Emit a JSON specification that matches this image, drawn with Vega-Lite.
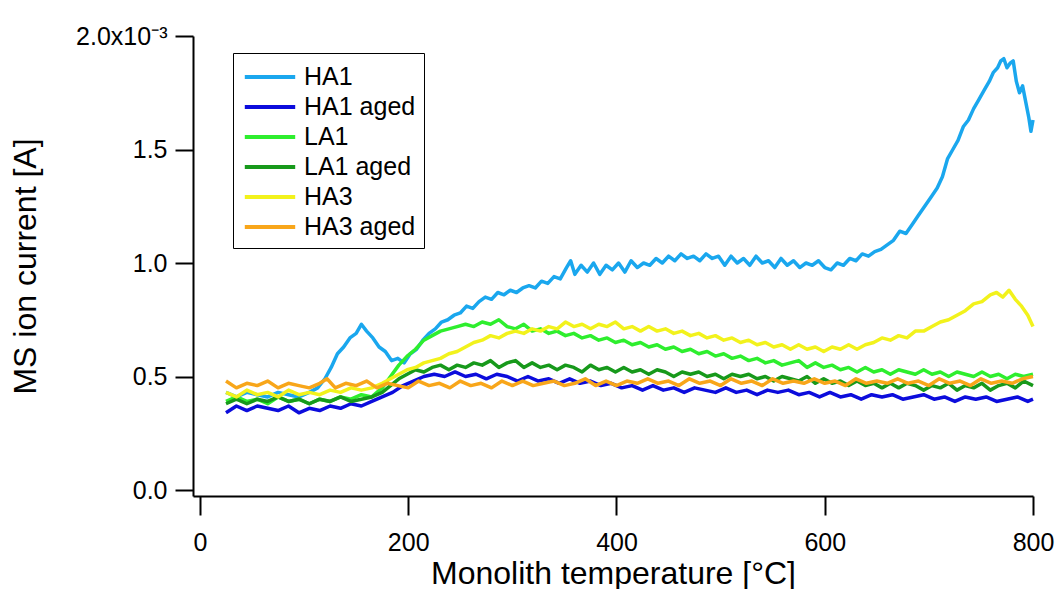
{
"$schema":"https://vega.github.io/schema/vega-lite/v6.json",
"width":840,"height":460,
"autosize":{"type":"none"},
"padding":{"left":193,"top":36,"right":23,"bottom":93},
"background":"white",
"config":{"view":{"stroke":null},"font":"Liberation Sans"},
"datasets":{"d":[
{"s":"HA1","t":25,"v":0.43},{"s":"HA1","t":35,"v":0.41},{"s":"HA1","t":45,"v":0.43},{"s":"HA1","t":55,"v":0.42},{"s":"HA1","t":65,"v":0.41},{"s":"HA1","t":75,"v":0.43},{"s":"HA1","t":85,"v":0.42},{"s":"HA1","t":95,"v":0.41},{"s":"HA1","t":105,"v":0.43},{"s":"HA1","t":113,"v":0.45},{"s":"HA1","t":120,"v":0.49},{"s":"HA1","t":126,"v":0.54},{"s":"HA1","t":132,"v":0.60},{"s":"HA1","t":138,"v":0.63},{"s":"HA1","t":144,"v":0.67},{"s":"HA1","t":150,"v":0.69},{"s":"HA1","t":155,"v":0.73},{"s":"HA1","t":160,"v":0.70},{"s":"HA1","t":166,"v":0.67},{"s":"HA1","t":172,"v":0.63},{"s":"HA1","t":178,"v":0.61},{"s":"HA1","t":184,"v":0.57},{"s":"HA1","t":190,"v":0.58},{"s":"HA1","t":196,"v":0.56},{"s":"HA1","t":202,"v":0.60},{"s":"HA1","t":208,"v":0.62},{"s":"HA1","t":214,"v":0.66},{"s":"HA1","t":220,"v":0.69},{"s":"HA1","t":226,"v":0.71},{"s":"HA1","t":232,"v":0.74},{"s":"HA1","t":238,"v":0.75},{"s":"HA1","t":244,"v":0.77},{"s":"HA1","t":250,"v":0.78},{"s":"HA1","t":256,"v":0.81},{"s":"HA1","t":262,"v":0.80},{"s":"HA1","t":268,"v":0.83},{"s":"HA1","t":274,"v":0.85},{"s":"HA1","t":280,"v":0.84},{"s":"HA1","t":286,"v":0.87},{"s":"HA1","t":292,"v":0.86},{"s":"HA1","t":298,"v":0.88},{"s":"HA1","t":304,"v":0.87},{"s":"HA1","t":310,"v":0.89},{"s":"HA1","t":316,"v":0.90},{"s":"HA1","t":322,"v":0.89},{"s":"HA1","t":328,"v":0.92},{"s":"HA1","t":334,"v":0.91},{"s":"HA1","t":340,"v":0.94},{"s":"HA1","t":346,"v":0.93},{"s":"HA1","t":352,"v":0.98},{"s":"HA1","t":356,"v":1.01},{"s":"HA1","t":360,"v":0.95},{"s":"HA1","t":366,"v":0.99},{"s":"HA1","t":372,"v":0.96},{"s":"HA1","t":378,"v":1.00},{"s":"HA1","t":384,"v":0.95},{"s":"HA1","t":390,"v":0.99},{"s":"HA1","t":396,"v":0.97},{"s":"HA1","t":402,"v":1.00},{"s":"HA1","t":408,"v":0.96},{"s":"HA1","t":414,"v":1.01},{"s":"HA1","t":420,"v":0.98},{"s":"HA1","t":426,"v":1.00},{"s":"HA1","t":432,"v":0.99},{"s":"HA1","t":438,"v":1.02},{"s":"HA1","t":444,"v":1.00},{"s":"HA1","t":450,"v":1.03},{"s":"HA1","t":456,"v":1.01},{"s":"HA1","t":462,"v":1.04},{"s":"HA1","t":468,"v":1.02},{"s":"HA1","t":474,"v":1.03},{"s":"HA1","t":480,"v":1.01},{"s":"HA1","t":486,"v":1.04},{"s":"HA1","t":492,"v":1.02},{"s":"HA1","t":498,"v":1.03},{"s":"HA1","t":504,"v":0.99},{"s":"HA1","t":510,"v":1.03},{"s":"HA1","t":516,"v":1.00},{"s":"HA1","t":522,"v":1.02},{"s":"HA1","t":528,"v":0.99},{"s":"HA1","t":534,"v":1.03},{"s":"HA1","t":540,"v":1.00},{"s":"HA1","t":546,"v":1.01},{"s":"HA1","t":552,"v":0.98},{"s":"HA1","t":558,"v":1.02},{"s":"HA1","t":564,"v":0.99},{"s":"HA1","t":570,"v":1.01},{"s":"HA1","t":576,"v":0.98},{"s":"HA1","t":582,"v":1.00},{"s":"HA1","t":588,"v":0.99},{"s":"HA1","t":594,"v":1.01},{"s":"HA1","t":600,"v":0.98},{"s":"HA1","t":606,"v":0.97},{"s":"HA1","t":612,"v":1.00},{"s":"HA1","t":618,"v":0.99},{"s":"HA1","t":624,"v":1.02},{"s":"HA1","t":630,"v":1.01},{"s":"HA1","t":636,"v":1.04},{"s":"HA1","t":642,"v":1.03},{"s":"HA1","t":648,"v":1.05},{"s":"HA1","t":654,"v":1.06},{"s":"HA1","t":660,"v":1.08},{"s":"HA1","t":666,"v":1.10},{"s":"HA1","t":672,"v":1.14},{"s":"HA1","t":678,"v":1.13},{"s":"HA1","t":684,"v":1.17},{"s":"HA1","t":690,"v":1.21},{"s":"HA1","t":696,"v":1.25},{"s":"HA1","t":702,"v":1.29},{"s":"HA1","t":708,"v":1.33},{"s":"HA1","t":713,"v":1.38},{"s":"HA1","t":718,"v":1.46},{"s":"HA1","t":723,"v":1.50},{"s":"HA1","t":728,"v":1.54},{"s":"HA1","t":733,"v":1.60},{"s":"HA1","t":738,"v":1.63},{"s":"HA1","t":743,"v":1.68},{"s":"HA1","t":748,"v":1.72},{"s":"HA1","t":753,"v":1.76},{"s":"HA1","t":758,"v":1.80},{"s":"HA1","t":762,"v":1.84},{"s":"HA1","t":766,"v":1.86},{"s":"HA1","t":769,"v":1.89},{"s":"HA1","t":772,"v":1.90},{"s":"HA1","t":775,"v":1.86},{"s":"HA1","t":778,"v":1.88},{"s":"HA1","t":781,"v":1.89},{"s":"HA1","t":784,"v":1.80},{"s":"HA1","t":787,"v":1.75},{"s":"HA1","t":790,"v":1.78},{"s":"HA1","t":793,"v":1.71},{"s":"HA1","t":796,"v":1.64},{"s":"HA1","t":798,"v":1.58},{"s":"HA1","t":800,"v":1.63},
{"s":"HA1 aged","t":25,"v":0.34},{"s":"HA1 aged","t":35,"v":0.37},{"s":"HA1 aged","t":45,"v":0.35},{"s":"HA1 aged","t":55,"v":0.37},{"s":"HA1 aged","t":65,"v":0.36},{"s":"HA1 aged","t":75,"v":0.35},{"s":"HA1 aged","t":85,"v":0.37},{"s":"HA1 aged","t":95,"v":0.34},{"s":"HA1 aged","t":105,"v":0.36},{"s":"HA1 aged","t":115,"v":0.35},{"s":"HA1 aged","t":125,"v":0.37},{"s":"HA1 aged","t":135,"v":0.36},{"s":"HA1 aged","t":145,"v":0.38},{"s":"HA1 aged","t":155,"v":0.37},{"s":"HA1 aged","t":165,"v":0.39},{"s":"HA1 aged","t":175,"v":0.41},{"s":"HA1 aged","t":185,"v":0.43},{"s":"HA1 aged","t":195,"v":0.46},{"s":"HA1 aged","t":205,"v":0.48},{"s":"HA1 aged","t":215,"v":0.50},{"s":"HA1 aged","t":225,"v":0.51},{"s":"HA1 aged","t":235,"v":0.50},{"s":"HA1 aged","t":245,"v":0.52},{"s":"HA1 aged","t":255,"v":0.50},{"s":"HA1 aged","t":265,"v":0.51},{"s":"HA1 aged","t":275,"v":0.49},{"s":"HA1 aged","t":285,"v":0.51},{"s":"HA1 aged","t":295,"v":0.50},{"s":"HA1 aged","t":305,"v":0.48},{"s":"HA1 aged","t":315,"v":0.50},{"s":"HA1 aged","t":325,"v":0.48},{"s":"HA1 aged","t":335,"v":0.49},{"s":"HA1 aged","t":345,"v":0.47},{"s":"HA1 aged","t":355,"v":0.49},{"s":"HA1 aged","t":365,"v":0.47},{"s":"HA1 aged","t":375,"v":0.48},{"s":"HA1 aged","t":385,"v":0.46},{"s":"HA1 aged","t":395,"v":0.47},{"s":"HA1 aged","t":405,"v":0.45},{"s":"HA1 aged","t":415,"v":0.46},{"s":"HA1 aged","t":425,"v":0.44},{"s":"HA1 aged","t":435,"v":0.46},{"s":"HA1 aged","t":445,"v":0.44},{"s":"HA1 aged","t":455,"v":0.45},{"s":"HA1 aged","t":465,"v":0.43},{"s":"HA1 aged","t":475,"v":0.45},{"s":"HA1 aged","t":485,"v":0.44},{"s":"HA1 aged","t":495,"v":0.43},{"s":"HA1 aged","t":505,"v":0.45},{"s":"HA1 aged","t":515,"v":0.43},{"s":"HA1 aged","t":525,"v":0.44},{"s":"HA1 aged","t":535,"v":0.42},{"s":"HA1 aged","t":545,"v":0.44},{"s":"HA1 aged","t":555,"v":0.43},{"s":"HA1 aged","t":565,"v":0.44},{"s":"HA1 aged","t":575,"v":0.42},{"s":"HA1 aged","t":585,"v":0.43},{"s":"HA1 aged","t":595,"v":0.41},{"s":"HA1 aged","t":605,"v":0.43},{"s":"HA1 aged","t":615,"v":0.41},{"s":"HA1 aged","t":625,"v":0.42},{"s":"HA1 aged","t":635,"v":0.40},{"s":"HA1 aged","t":645,"v":0.42},{"s":"HA1 aged","t":655,"v":0.41},{"s":"HA1 aged","t":665,"v":0.42},{"s":"HA1 aged","t":675,"v":0.40},{"s":"HA1 aged","t":685,"v":0.41},{"s":"HA1 aged","t":695,"v":0.42},{"s":"HA1 aged","t":705,"v":0.40},{"s":"HA1 aged","t":715,"v":0.41},{"s":"HA1 aged","t":725,"v":0.39},{"s":"HA1 aged","t":735,"v":0.41},{"s":"HA1 aged","t":745,"v":0.40},{"s":"HA1 aged","t":755,"v":0.41},{"s":"HA1 aged","t":765,"v":0.39},{"s":"HA1 aged","t":775,"v":0.40},{"s":"HA1 aged","t":785,"v":0.41},{"s":"HA1 aged","t":795,"v":0.39},{"s":"HA1 aged","t":800,"v":0.40},
{"s":"LA1","t":25,"v":0.39},{"s":"LA1","t":35,"v":0.41},{"s":"LA1","t":45,"v":0.39},{"s":"LA1","t":55,"v":0.40},{"s":"LA1","t":65,"v":0.38},{"s":"LA1","t":75,"v":0.41},{"s":"LA1","t":85,"v":0.39},{"s":"LA1","t":95,"v":0.40},{"s":"LA1","t":105,"v":0.38},{"s":"LA1","t":115,"v":0.40},{"s":"LA1","t":125,"v":0.39},{"s":"LA1","t":135,"v":0.41},{"s":"LA1","t":145,"v":0.40},{"s":"LA1","t":155,"v":0.42},{"s":"LA1","t":165,"v":0.41},{"s":"LA1","t":175,"v":0.45},{"s":"LA1","t":183,"v":0.50},{"s":"LA1","t":191,"v":0.55},{"s":"LA1","t":199,"v":0.59},{"s":"LA1","t":207,"v":0.62},{"s":"LA1","t":215,"v":0.66},{"s":"LA1","t":223,"v":0.68},{"s":"LA1","t":231,"v":0.70},{"s":"LA1","t":239,"v":0.71},{"s":"LA1","t":247,"v":0.72},{"s":"LA1","t":255,"v":0.73},{"s":"LA1","t":263,"v":0.72},{"s":"LA1","t":271,"v":0.74},{"s":"LA1","t":279,"v":0.73},{"s":"LA1","t":287,"v":0.75},{"s":"LA1","t":295,"v":0.72},{"s":"LA1","t":303,"v":0.71},{"s":"LA1","t":311,"v":0.73},{"s":"LA1","t":319,"v":0.70},{"s":"LA1","t":327,"v":0.71},{"s":"LA1","t":335,"v":0.69},{"s":"LA1","t":343,"v":0.70},{"s":"LA1","t":351,"v":0.68},{"s":"LA1","t":359,"v":0.69},{"s":"LA1","t":367,"v":0.67},{"s":"LA1","t":375,"v":0.68},{"s":"LA1","t":383,"v":0.66},{"s":"LA1","t":391,"v":0.67},{"s":"LA1","t":399,"v":0.65},{"s":"LA1","t":407,"v":0.66},{"s":"LA1","t":415,"v":0.64},{"s":"LA1","t":423,"v":0.65},{"s":"LA1","t":431,"v":0.63},{"s":"LA1","t":439,"v":0.64},{"s":"LA1","t":447,"v":0.62},{"s":"LA1","t":455,"v":0.63},{"s":"LA1","t":463,"v":0.61},{"s":"LA1","t":471,"v":0.62},{"s":"LA1","t":479,"v":0.60},{"s":"LA1","t":487,"v":0.61},{"s":"LA1","t":495,"v":0.59},{"s":"LA1","t":503,"v":0.60},{"s":"LA1","t":511,"v":0.58},{"s":"LA1","t":519,"v":0.59},{"s":"LA1","t":527,"v":0.57},{"s":"LA1","t":535,"v":0.58},{"s":"LA1","t":543,"v":0.56},{"s":"LA1","t":551,"v":0.57},{"s":"LA1","t":559,"v":0.55},{"s":"LA1","t":567,"v":0.56},{"s":"LA1","t":575,"v":0.57},{"s":"LA1","t":583,"v":0.54},{"s":"LA1","t":591,"v":0.56},{"s":"LA1","t":599,"v":0.54},{"s":"LA1","t":607,"v":0.55},{"s":"LA1","t":615,"v":0.53},{"s":"LA1","t":623,"v":0.54},{"s":"LA1","t":631,"v":0.52},{"s":"LA1","t":639,"v":0.54},{"s":"LA1","t":647,"v":0.52},{"s":"LA1","t":655,"v":0.53},{"s":"LA1","t":663,"v":0.51},{"s":"LA1","t":671,"v":0.53},{"s":"LA1","t":679,"v":0.52},{"s":"LA1","t":687,"v":0.51},{"s":"LA1","t":695,"v":0.53},{"s":"LA1","t":703,"v":0.51},{"s":"LA1","t":711,"v":0.52},{"s":"LA1","t":719,"v":0.50},{"s":"LA1","t":727,"v":0.52},{"s":"LA1","t":735,"v":0.51},{"s":"LA1","t":743,"v":0.50},{"s":"LA1","t":751,"v":0.52},{"s":"LA1","t":759,"v":0.50},{"s":"LA1","t":767,"v":0.51},{"s":"LA1","t":775,"v":0.49},{"s":"LA1","t":783,"v":0.51},{"s":"LA1","t":791,"v":0.50},{"s":"LA1","t":800,"v":0.51},
{"s":"LA1 aged","t":25,"v":0.38},{"s":"LA1 aged","t":35,"v":0.40},{"s":"LA1 aged","t":45,"v":0.38},{"s":"LA1 aged","t":55,"v":0.40},{"s":"LA1 aged","t":65,"v":0.39},{"s":"LA1 aged","t":75,"v":0.41},{"s":"LA1 aged","t":85,"v":0.39},{"s":"LA1 aged","t":95,"v":0.40},{"s":"LA1 aged","t":105,"v":0.38},{"s":"LA1 aged","t":115,"v":0.40},{"s":"LA1 aged","t":125,"v":0.39},{"s":"LA1 aged","t":135,"v":0.41},{"s":"LA1 aged","t":145,"v":0.39},{"s":"LA1 aged","t":155,"v":0.40},{"s":"LA1 aged","t":165,"v":0.41},{"s":"LA1 aged","t":175,"v":0.43},{"s":"LA1 aged","t":183,"v":0.46},{"s":"LA1 aged","t":191,"v":0.49},{"s":"LA1 aged","t":199,"v":0.51},{"s":"LA1 aged","t":207,"v":0.53},{"s":"LA1 aged","t":215,"v":0.52},{"s":"LA1 aged","t":223,"v":0.54},{"s":"LA1 aged","t":231,"v":0.55},{"s":"LA1 aged","t":239,"v":0.53},{"s":"LA1 aged","t":247,"v":0.55},{"s":"LA1 aged","t":255,"v":0.54},{"s":"LA1 aged","t":263,"v":0.56},{"s":"LA1 aged","t":271,"v":0.55},{"s":"LA1 aged","t":279,"v":0.57},{"s":"LA1 aged","t":287,"v":0.54},{"s":"LA1 aged","t":295,"v":0.56},{"s":"LA1 aged","t":303,"v":0.57},{"s":"LA1 aged","t":311,"v":0.54},{"s":"LA1 aged","t":319,"v":0.56},{"s":"LA1 aged","t":327,"v":0.54},{"s":"LA1 aged","t":335,"v":0.55},{"s":"LA1 aged","t":343,"v":0.53},{"s":"LA1 aged","t":351,"v":0.55},{"s":"LA1 aged","t":359,"v":0.54},{"s":"LA1 aged","t":367,"v":0.52},{"s":"LA1 aged","t":375,"v":0.55},{"s":"LA1 aged","t":383,"v":0.53},{"s":"LA1 aged","t":391,"v":0.54},{"s":"LA1 aged","t":399,"v":0.52},{"s":"LA1 aged","t":407,"v":0.54},{"s":"LA1 aged","t":415,"v":0.52},{"s":"LA1 aged","t":423,"v":0.53},{"s":"LA1 aged","t":431,"v":0.51},{"s":"LA1 aged","t":439,"v":0.53},{"s":"LA1 aged","t":447,"v":0.52},{"s":"LA1 aged","t":455,"v":0.50},{"s":"LA1 aged","t":463,"v":0.52},{"s":"LA1 aged","t":471,"v":0.51},{"s":"LA1 aged","t":479,"v":0.52},{"s":"LA1 aged","t":487,"v":0.50},{"s":"LA1 aged","t":495,"v":0.51},{"s":"LA1 aged","t":503,"v":0.49},{"s":"LA1 aged","t":511,"v":0.51},{"s":"LA1 aged","t":519,"v":0.50},{"s":"LA1 aged","t":527,"v":0.51},{"s":"LA1 aged","t":535,"v":0.49},{"s":"LA1 aged","t":543,"v":0.50},{"s":"LA1 aged","t":551,"v":0.48},{"s":"LA1 aged","t":559,"v":0.50},{"s":"LA1 aged","t":567,"v":0.49},{"s":"LA1 aged","t":575,"v":0.48},{"s":"LA1 aged","t":583,"v":0.50},{"s":"LA1 aged","t":591,"v":0.47},{"s":"LA1 aged","t":599,"v":0.49},{"s":"LA1 aged","t":607,"v":0.47},{"s":"LA1 aged","t":615,"v":0.48},{"s":"LA1 aged","t":623,"v":0.46},{"s":"LA1 aged","t":631,"v":0.48},{"s":"LA1 aged","t":639,"v":0.46},{"s":"LA1 aged","t":647,"v":0.47},{"s":"LA1 aged","t":655,"v":0.45},{"s":"LA1 aged","t":663,"v":0.47},{"s":"LA1 aged","t":671,"v":0.45},{"s":"LA1 aged","t":679,"v":0.47},{"s":"LA1 aged","t":687,"v":0.46},{"s":"LA1 aged","t":695,"v":0.44},{"s":"LA1 aged","t":703,"v":0.46},{"s":"LA1 aged","t":711,"v":0.45},{"s":"LA1 aged","t":719,"v":0.47},{"s":"LA1 aged","t":727,"v":0.44},{"s":"LA1 aged","t":735,"v":0.46},{"s":"LA1 aged","t":743,"v":0.45},{"s":"LA1 aged","t":751,"v":0.47},{"s":"LA1 aged","t":759,"v":0.44},{"s":"LA1 aged","t":767,"v":0.46},{"s":"LA1 aged","t":775,"v":0.47},{"s":"LA1 aged","t":783,"v":0.45},{"s":"LA1 aged","t":791,"v":0.48},{"s":"LA1 aged","t":800,"v":0.46},
{"s":"HA3","t":25,"v":0.43},{"s":"HA3","t":35,"v":0.41},{"s":"HA3","t":45,"v":0.44},{"s":"HA3","t":55,"v":0.42},{"s":"HA3","t":65,"v":0.43},{"s":"HA3","t":75,"v":0.41},{"s":"HA3","t":85,"v":0.44},{"s":"HA3","t":95,"v":0.42},{"s":"HA3","t":105,"v":0.43},{"s":"HA3","t":115,"v":0.42},{"s":"HA3","t":125,"v":0.44},{"s":"HA3","t":135,"v":0.43},{"s":"HA3","t":145,"v":0.45},{"s":"HA3","t":155,"v":0.44},{"s":"HA3","t":165,"v":0.45},{"s":"HA3","t":175,"v":0.47},{"s":"HA3","t":183,"v":0.49},{"s":"HA3","t":191,"v":0.51},{"s":"HA3","t":199,"v":0.53},{"s":"HA3","t":207,"v":0.54},{"s":"HA3","t":215,"v":0.56},{"s":"HA3","t":223,"v":0.57},{"s":"HA3","t":231,"v":0.58},{"s":"HA3","t":239,"v":0.60},{"s":"HA3","t":247,"v":0.61},{"s":"HA3","t":255,"v":0.63},{"s":"HA3","t":263,"v":0.65},{"s":"HA3","t":271,"v":0.66},{"s":"HA3","t":279,"v":0.68},{"s":"HA3","t":287,"v":0.67},{"s":"HA3","t":295,"v":0.69},{"s":"HA3","t":303,"v":0.70},{"s":"HA3","t":311,"v":0.69},{"s":"HA3","t":319,"v":0.71},{"s":"HA3","t":327,"v":0.70},{"s":"HA3","t":335,"v":0.72},{"s":"HA3","t":343,"v":0.71},{"s":"HA3","t":351,"v":0.74},{"s":"HA3","t":359,"v":0.72},{"s":"HA3","t":367,"v":0.73},{"s":"HA3","t":375,"v":0.71},{"s":"HA3","t":383,"v":0.73},{"s":"HA3","t":391,"v":0.72},{"s":"HA3","t":399,"v":0.74},{"s":"HA3","t":407,"v":0.71},{"s":"HA3","t":415,"v":0.72},{"s":"HA3","t":423,"v":0.70},{"s":"HA3","t":431,"v":0.72},{"s":"HA3","t":439,"v":0.70},{"s":"HA3","t":447,"v":0.71},{"s":"HA3","t":455,"v":0.69},{"s":"HA3","t":463,"v":0.70},{"s":"HA3","t":471,"v":0.68},{"s":"HA3","t":479,"v":0.69},{"s":"HA3","t":487,"v":0.67},{"s":"HA3","t":495,"v":0.68},{"s":"HA3","t":503,"v":0.66},{"s":"HA3","t":511,"v":0.67},{"s":"HA3","t":519,"v":0.65},{"s":"HA3","t":527,"v":0.66},{"s":"HA3","t":535,"v":0.64},{"s":"HA3","t":543,"v":0.65},{"s":"HA3","t":551,"v":0.63},{"s":"HA3","t":559,"v":0.64},{"s":"HA3","t":567,"v":0.62},{"s":"HA3","t":575,"v":0.64},{"s":"HA3","t":583,"v":0.62},{"s":"HA3","t":591,"v":0.63},{"s":"HA3","t":599,"v":0.61},{"s":"HA3","t":607,"v":0.63},{"s":"HA3","t":615,"v":0.62},{"s":"HA3","t":623,"v":0.64},{"s":"HA3","t":631,"v":0.62},{"s":"HA3","t":639,"v":0.64},{"s":"HA3","t":647,"v":0.65},{"s":"HA3","t":655,"v":0.67},{"s":"HA3","t":663,"v":0.66},{"s":"HA3","t":671,"v":0.68},{"s":"HA3","t":679,"v":0.67},{"s":"HA3","t":687,"v":0.70},{"s":"HA3","t":695,"v":0.70},{"s":"HA3","t":703,"v":0.72},{"s":"HA3","t":711,"v":0.74},{"s":"HA3","t":719,"v":0.75},{"s":"HA3","t":727,"v":0.77},{"s":"HA3","t":735,"v":0.79},{"s":"HA3","t":743,"v":0.82},{"s":"HA3","t":751,"v":0.83},{"s":"HA3","t":759,"v":0.86},{"s":"HA3","t":765,"v":0.87},{"s":"HA3","t":771,"v":0.85},{"s":"HA3","t":777,"v":0.88},{"s":"HA3","t":783,"v":0.84},{"s":"HA3","t":789,"v":0.81},{"s":"HA3","t":795,"v":0.77},{"s":"HA3","t":800,"v":0.72},
{"s":"HA3 aged","t":25,"v":0.48},{"s":"HA3 aged","t":35,"v":0.45},{"s":"HA3 aged","t":45,"v":0.47},{"s":"HA3 aged","t":55,"v":0.46},{"s":"HA3 aged","t":65,"v":0.48},{"s":"HA3 aged","t":75,"v":0.45},{"s":"HA3 aged","t":85,"v":0.47},{"s":"HA3 aged","t":95,"v":0.46},{"s":"HA3 aged","t":105,"v":0.45},{"s":"HA3 aged","t":115,"v":0.47},{"s":"HA3 aged","t":122,"v":0.49},{"s":"HA3 aged","t":130,"v":0.45},{"s":"HA3 aged","t":140,"v":0.47},{"s":"HA3 aged","t":150,"v":0.46},{"s":"HA3 aged","t":160,"v":0.48},{"s":"HA3 aged","t":170,"v":0.45},{"s":"HA3 aged","t":180,"v":0.47},{"s":"HA3 aged","t":190,"v":0.46},{"s":"HA3 aged","t":200,"v":0.45},{"s":"HA3 aged","t":210,"v":0.48},{"s":"HA3 aged","t":220,"v":0.46},{"s":"HA3 aged","t":230,"v":0.47},{"s":"HA3 aged","t":240,"v":0.45},{"s":"HA3 aged","t":250,"v":0.48},{"s":"HA3 aged","t":260,"v":0.46},{"s":"HA3 aged","t":270,"v":0.47},{"s":"HA3 aged","t":280,"v":0.45},{"s":"HA3 aged","t":290,"v":0.48},{"s":"HA3 aged","t":300,"v":0.46},{"s":"HA3 aged","t":310,"v":0.48},{"s":"HA3 aged","t":320,"v":0.46},{"s":"HA3 aged","t":330,"v":0.47},{"s":"HA3 aged","t":340,"v":0.48},{"s":"HA3 aged","t":350,"v":0.46},{"s":"HA3 aged","t":360,"v":0.47},{"s":"HA3 aged","t":370,"v":0.49},{"s":"HA3 aged","t":380,"v":0.46},{"s":"HA3 aged","t":390,"v":0.48},{"s":"HA3 aged","t":400,"v":0.46},{"s":"HA3 aged","t":410,"v":0.48},{"s":"HA3 aged","t":420,"v":0.47},{"s":"HA3 aged","t":430,"v":0.49},{"s":"HA3 aged","t":440,"v":0.47},{"s":"HA3 aged","t":450,"v":0.48},{"s":"HA3 aged","t":460,"v":0.46},{"s":"HA3 aged","t":470,"v":0.49},{"s":"HA3 aged","t":480,"v":0.47},{"s":"HA3 aged","t":490,"v":0.48},{"s":"HA3 aged","t":500,"v":0.46},{"s":"HA3 aged","t":510,"v":0.49},{"s":"HA3 aged","t":520,"v":0.47},{"s":"HA3 aged","t":530,"v":0.48},{"s":"HA3 aged","t":540,"v":0.46},{"s":"HA3 aged","t":550,"v":0.49},{"s":"HA3 aged","t":560,"v":0.47},{"s":"HA3 aged","t":570,"v":0.48},{"s":"HA3 aged","t":580,"v":0.47},{"s":"HA3 aged","t":590,"v":0.49},{"s":"HA3 aged","t":600,"v":0.47},{"s":"HA3 aged","t":610,"v":0.48},{"s":"HA3 aged","t":620,"v":0.46},{"s":"HA3 aged","t":630,"v":0.49},{"s":"HA3 aged","t":640,"v":0.47},{"s":"HA3 aged","t":650,"v":0.48},{"s":"HA3 aged","t":660,"v":0.47},{"s":"HA3 aged","t":670,"v":0.49},{"s":"HA3 aged","t":680,"v":0.47},{"s":"HA3 aged","t":690,"v":0.48},{"s":"HA3 aged","t":700,"v":0.46},{"s":"HA3 aged","t":710,"v":0.49},{"s":"HA3 aged","t":720,"v":0.47},{"s":"HA3 aged","t":730,"v":0.48},{"s":"HA3 aged","t":740,"v":0.46},{"s":"HA3 aged","t":750,"v":0.49},{"s":"HA3 aged","t":760,"v":0.47},{"s":"HA3 aged","t":770,"v":0.48},{"s":"HA3 aged","t":780,"v":0.47},{"s":"HA3 aged","t":790,"v":0.49},{"s":"HA3 aged","t":800,"v":0.50}
]},
"data":{"name":"d"},
"mark":{"type":"line","strokeWidth":3.5,"strokeJoin":"round"},
"encoding":{
"x":{"field":"t","type":"quantitative","scale":{"domain":[-6.7,800],"nice":false,"zero":false},
"axis":{"title":"Monolith temperature [°C]","values":[0,200,400,600,800],"format":"d","grid":false,
"domainColor":"black","domainWidth":2,"tickColor":"black","tickWidth":2,"tickSize":19,
"labelFont":"Liberation Sans","labelFontSize":25,"labelColor":"black","labelPadding":15,"labelFlush":false,
"titleFont":"Liberation Sans","titleFontSize":32,"titleFontWeight":"normal","titleColor":"black","titlePadding":3}},
"y":{"field":"v","type":"quantitative","scale":{"domain":[-0.0264,2.0],"nice":false,"zero":false},
"axis":{"title":"MS ion current [A]","values":[0,0.5,1,1.5,2],"grid":false,
"labelExpr":"datum.value == 2 ? '2.0x10⁻³' : format(datum.value, '.1f')",
"domainColor":"black","domainWidth":2,"tickColor":"black","tickWidth":2,"tickSize":18,
"labelFont":"Liberation Sans","labelFontSize":25,"labelColor":"black","labelPadding":8,"labelFlush":false,
"titleFont":"Liberation Sans","titleFontSize":32,"titleFontWeight":"normal","titleColor":"black","titlePadding":33}},
"color":{"field":"s","type":"nominal",
"scale":{"domain":["HA1","HA1 aged","LA1","LA1 aged","HA3","HA3 aged"],"range":["#1AA7EE","#0C0CDC","#2EEE2E","#17991B","#F2F21C","#F8A61A"]},
"legend":{"title":null,"orient":"none","legendX":40,"legendY":17,"strokeColor":"black","fillColor":"white","padding":8,
"symbolType":"M-1.8,0H1.8","symbolSize":784,"symbolStrokeWidth":4,"symbolOffset":13,"labelFontSize":25,"labelFont":"Liberation Sans","labelColor":"black","labelOffset":18,"rowPadding":1}}
}
}
